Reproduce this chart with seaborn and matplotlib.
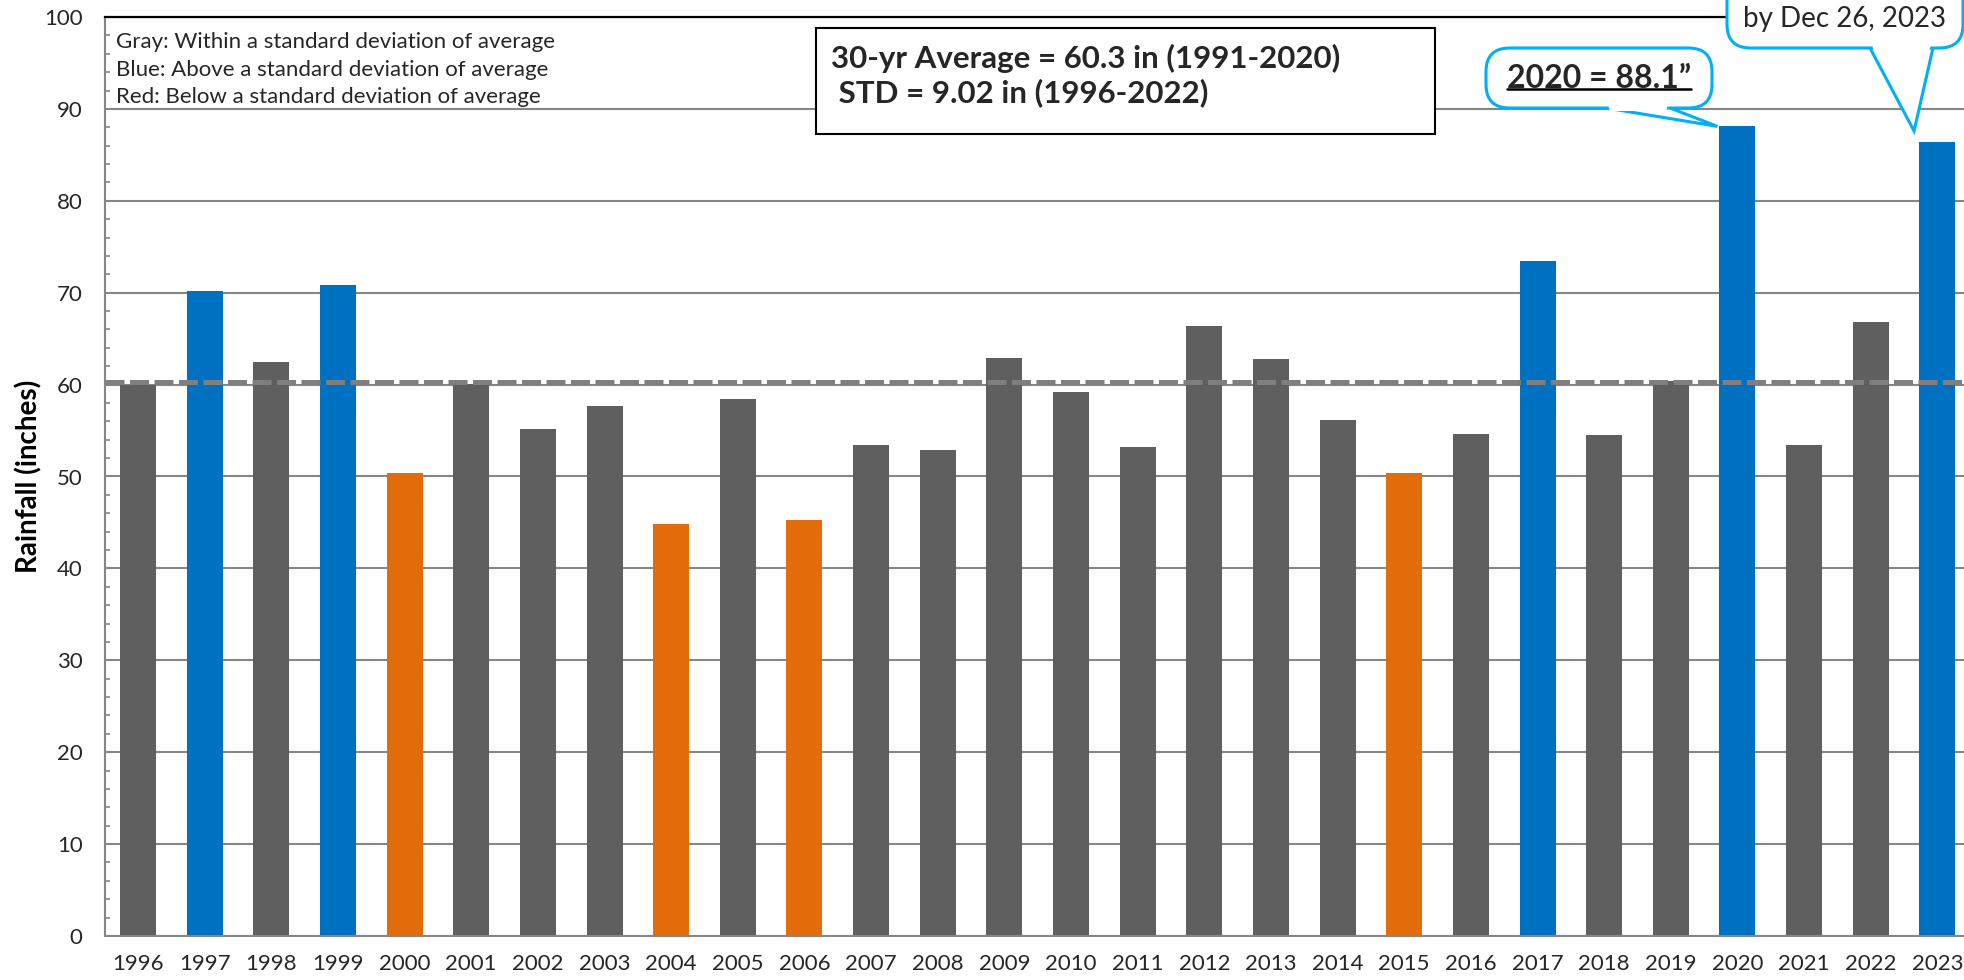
import matplotlib
matplotlib.use("Agg")
import matplotlib.pyplot as plt
import matplotlib.text as mtext
from matplotlib.lines import Line2D
from matplotlib.patches import Rectangle, FancyBboxPatch, Polygon
from matplotlib.ticker import MultipleLocator
import pandas as pd
import seaborn as sns

# --- data ---
years = [str(y) for y in range(1996, 2024)]
rainfall = [60.0, 70.2, 62.5, 70.8, 50.4, 60.1, 55.2, 57.7, 44.8, 58.4,
            45.3, 53.4, 52.9, 62.9, 59.2, 53.2, 66.4, 62.8, 56.2, 50.4,
            54.6, 73.4, 54.5, 60.4, 88.1, 53.4, 66.8, 86.4]
groups = ["Gray", "Blue", "Gray", "Blue", "Red", "Gray", "Gray", "Gray", "Red", "Gray",
          "Red", "Gray", "Gray", "Gray", "Gray", "Gray", "Gray", "Gray", "Gray", "Red",
          "Gray", "Blue", "Gray", "Gray", "Blue", "Gray", "Gray", "Blue"]
palette = {"Gray": "#5f5f5f", "Blue": "#0070c0", "Red": "#e36c0a"}

avg_30yr = 60.3
std_dev = 9.02
legend_lines = ["Gray: Within a standard deviation of average",
                "Blue: Above a standard deviation of average",
                "Red: Below a standard deviation of average"]

df = pd.DataFrame({"year": years, "rain": rainfall, "group": groups})

sns.set_theme(style="white")
plt.rcParams["font.family"] = ["Lato", "DejaVu Sans"]

W, H = 1965, 980
fig = plt.figure(figsize=(W / 100, H / 100), dpi=100)
ax = fig.add_axes([104.7 / W, 44 / H, 1866 / W, 919 / H])


def fx(px):  # figure pixel (from left) -> fraction
    return px / W


def fy(py):  # figure pixel (from top) -> fraction
    return 1 - py / H


sns.barplot(data=df, x="year", y="rain", hue="group", palette=palette, dodge=False,
            width=0.54, saturation=1, errorbar=None, legend=False, ax=ax,
            edgecolor="none")

ax.set_xlim(-0.5, len(years) - 0.5)
ax.set_ylim(0, 100)
ax.yaxis.set_major_locator(MultipleLocator(10))
ax.yaxis.set_minor_locator(MultipleLocator(2))
ax.yaxis.grid(True, which="major", color="#868686", lw=1.5)
ax.set_axisbelow(True)

grey = "#868686"
ax.spines["left"].set_color(grey)
ax.spines["bottom"].set_color(grey)
ax.spines["left"].set_linewidth(1.5)
ax.spines["bottom"].set_linewidth(1.5)
ax.spines["top"].set_color("black")
ax.spines["top"].set_linewidth(1.6)
ax.spines["right"].set_visible(False)

ax.tick_params(axis="y", which="major", length=0, pad=16, labelsize=16, labelcolor="#262626")
ax.tick_params(axis="y", which="minor", direction="in", length=3.6, width=1.2, color=grey, left=True)
ax.tick_params(axis="x", length=0, pad=13, labelsize=16, labelcolor="#262626")

ax.set_xlabel("")
ax.set_ylabel("Rainfall (inches)", fontsize=20, fontweight="bold", color="black")
ax.yaxis.set_label_coords(-0.0336, 0.5)

# 30-yr average
ax.axhline(avg_30yr, color="#7f7f7f", lw=3.6, dashes=(3.8, 1.1), zorder=5)

# colour key, top-left
for i, line in enumerate(legend_lines):
    fig.text(fx(116), fy(42 + 27.5 * i), line, fontsize=16, color="#262626",
             ha="left", va="center")

# stats box
fig.add_artist(Rectangle((fx(816), fy(134)), (1435 - 816) / W, (134 - 27.6) / H,
                         transform=fig.transFigure, fc="white", ec="black", lw=1.5, zorder=2))
fig.text(fx(831), fy(75.5),
         f"30-yr Average = {avg_30yr} in (1991-2020)\n STD = {std_dev} in (1996-2022)",
         fontsize=22.5, fontweight="bold", ha="left", va="center", linespacing=1.2, zorder=3)

# callouts: rounded box + wedge pointing at the bar
cyan = "#00b0f0"


def callout(box, base, tip, label, **kw):
    x0, y0, x1, y1 = box  # pixels from top-left
    tx, ty = fig.transFigure.inverted().transform(ax.transData.transform(tip))
    wedge = [(fx(base[0]), fy(y1)), (tx, ty), (fx(base[1]), fy(y1))]
    fig.add_artist(Polygon(wedge, closed=False, transform=fig.transFigure,
                           fc="white", ec=cyan, lw=2.2, zorder=4, joinstyle="miter"))
    fig.add_artist(FancyBboxPatch((fx(x0), fy(y1)), (x1 - x0) / W, (y1 - y0) / H,
                                  boxstyle="round,pad=0,rounding_size=0.012",
                                  transform=fig.transFigure, fc="white", ec=cyan,
                                  lw=2.2, zorder=5, mutation_aspect=W / H))
    # open the box border where the wedge joins
    fig.add_artist(Polygon([(fx(base[0] + 2), fy(y1 - 3)), (fx(base[1] - 2), fy(y1 - 3)),
                            (fx(base[1] - 4), fy(y1 + 3)), (fx(base[0] + 4), fy(y1 + 3))],
                           transform=fig.transFigure, fc="white", ec="none", zorder=6))
    return fig.text(fx((x0 + x1) / 2), fy(label[1]), label[0], ha="center", va="center",
                    zorder=7, **kw)


i20 = years.index("2020")
t20 = callout((1486, 48, 1712, 108), (1606, 1670), (i20 - 0.3, rainfall[i20]),
              (f"{years[i20]} = {rainfall[i20]}\u201d", 78), fontsize=23, fontweight="bold")

i23 = years.index("2023")
callout((1727, -40, 1963, 48), (1870, 1933), (i23 - 0.35, 87.6),
        ("by Dec 26, 2023", 19), fontsize=20)

# underline for the 2020 callout
fig.canvas.draw()
bb = mtext.Text.get_window_extent(t20, fig.canvas.get_renderer())
fig.add_artist(Line2D([bb.x0 / W, bb.x1 / W], [(bb.y0 + 3) / H, (bb.y0 + 3) / H],
                      transform=fig.transFigure, color="black", lw=1.8, zorder=8))

fig.savefig("out.png", dpi=100)
